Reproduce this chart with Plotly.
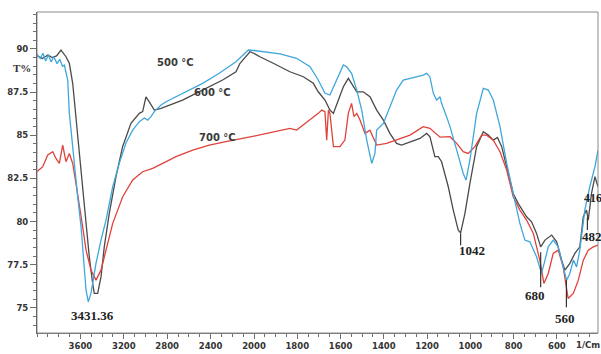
import plotly.graph_objects as go

# ---------------- data (wavenumber cm-1, transmittance %) ----------------
wn_500 = [4000, 3970, 3945, 3920, 3895, 3870, 3845, 3815, 3790, 3765,
          3748, 3717, 3702, 3687, 3656, 3625, 3594, 3579, 3564, 3548,
          3527, 3502, 3487, 3456, 3410, 3364, 3302, 3241, 3180, 3118,
          3057, 3011, 2980, 2949, 2919, 2888, 2857, 2811, 2719, 2596,
          2473, 2320, 2166, 2052, 2000, 1957, 1880, 1803, 1741, 1703,
          1672, 1649, 1618, 1587, 1572, 1549, 1525, 1502, 1479, 1456,
          1441, 1433, 1402, 1372, 1341, 1310, 1248, 1218, 1202, 1187,
          1171, 1156, 1140, 1133, 1110, 1094, 1063, 1033, 1020, 1002,
          971, 940, 917, 894, 863, 832, 802, 771, 748, 725,
          694, 671, 655, 640, 617, 594, 571, 555, 540, 524,
          509, 494, 471, 448, 424, 410]
t_500 = [89.7, 89.45, 89.75, 89.3, 89.65, 89.25, 89.55, 89.15, 89.4, 89.0,
         89.07, 88.2, 86.29, 85.3, 83.39, 81.44, 79.7, 78.35, 77.19, 76.03,
         75.35, 75.86, 76.43, 77.59, 78.93, 80.09, 82.02, 83.39, 84.55, 85.3,
         85.79, 86.0, 85.88, 86.08, 86.37, 86.58, 86.75, 86.94, 87.23, 87.62,
         88.01, 88.59, 89.26, 89.94, 89.91, 89.84, 89.71, 89.46, 88.97, 88.2,
         87.43, 87.33, 88.2, 89.07, 88.97, 88.59, 87.62, 86.46, 84.72, 83.37,
         83.95, 85.3, 85.69, 86.66, 87.62, 88.2, 88.39, 88.49, 88.59, 88.38,
         87.43, 87.04, 87.23, 86.85, 86.08, 85.5, 84.14, 82.79, 82.41, 83.57,
         86.27, 87.72, 87.62, 87.04, 85.5, 83.37, 81.63, 79.9, 78.93, 78.83,
         77.96, 77.0, 77.77, 78.54, 78.93, 78.54, 77.38, 76.61, 77.0, 77.77,
         77.38, 78.35, 80.67, 82.02, 83.18, 84.14]

wn_600 = [4000, 3950, 3900, 3860, 3820, 3779, 3733, 3702, 3671, 3641,
          3610, 3579, 3548, 3518, 3487, 3472, 3441, 3410, 3380, 3334,
          3272, 3211, 3134, 3057, 3026, 2996, 2965, 2919, 2857, 2781,
          2658, 2535, 2412, 2289, 2166, 2129, 2037, 2000, 1973, 1911,
          1834, 1772, 1726, 1703, 1672, 1649, 1633, 1610, 1587, 1564,
          1541, 1525, 1495, 1464, 1433, 1402, 1372, 1341, 1318, 1279,
          1233, 1202, 1187, 1164, 1148, 1133, 1102, 1079, 1056, 1045,
          1025, 1002, 971, 940, 917, 894, 875, 855, 832, 802,
          779, 740, 717, 694, 675, 655, 624, 601, 578, 563,
          540, 517, 494, 478, 463, 455, 440, 424, 410]
t_600 = [89.6, 89.45, 89.65, 89.5, 89.6, 89.94, 89.55, 89.17, 88.01, 86.08,
         83.76, 81.83, 79.9, 77.96, 76.42, 75.84, 75.84, 76.8, 78.54, 80.48,
         82.6, 84.34, 85.69, 86.27, 86.37, 87.23, 86.94, 86.46, 86.56, 86.75,
         87.04, 87.43, 87.81, 88.2, 88.68, 89.17, 89.84, 89.74, 89.55, 89.17,
         88.68, 88.39, 88.01, 87.52, 87.04, 86.46, 86.27, 87.04, 87.81, 88.3,
         87.81, 87.52, 87.52, 87.23, 86.46, 85.88, 85.11, 84.53, 84.43, 84.63,
         84.82, 85.11, 84.92, 83.76, 83.76, 83.47, 82.02, 80.67, 79.51, 79.35,
         80.48, 82.21, 84.34, 85.21, 85.01, 84.72, 84.88, 84.34, 83.18, 81.63,
         81.06, 80.28, 79.99, 79.32, 78.54, 78.93, 79.22, 78.83, 77.77, 77.19,
         77.58, 78.16, 78.54, 80.28, 80.67, 80.09, 81.63, 82.6, 82.02]

wn_700 = [4000, 3947, 3901, 3855, 3825, 3794, 3763, 3733, 3702, 3671,
          3641, 3610, 3579, 3548, 3502, 3456, 3410, 3364, 3302, 3210,
          3118, 3026, 2934, 2841, 2719, 2565, 2412, 2258, 2200, 2037,
          2000, 1911, 1834, 1803, 1772, 1741, 1718, 1703, 1687, 1672,
          1664, 1656, 1649, 1641, 1633, 1603, 1580, 1564, 1549, 1538,
          1525, 1510, 1487, 1464, 1449, 1433, 1387, 1341, 1279, 1218,
          1187, 1140, 1094, 1063, 1033, 1010, 979, 948, 925, 894,
          863, 832, 802, 771, 740, 709, 679, 660, 640, 617,
          594, 571, 548, 524, 501, 478, 455, 432, 410]
t_700 = [82.89, 83.18, 83.86, 84.05, 83.66, 83.37, 84.43, 83.47, 83.95, 83.37,
         82.21, 81.06, 79.7, 78.35, 77.19, 76.61, 77.19, 78.35, 79.9, 81.44,
         82.41, 82.89, 83.08, 83.37, 83.76, 84.14, 84.43, 84.63, 84.7, 84.92,
         84.95, 85.21, 85.4, 85.3, 85.59, 85.88, 86.08, 86.27, 86.46, 86.37,
         84.72, 86.46, 86.27, 85.3, 84.34, 84.34, 84.72, 86.27, 86.85, 86.08,
         86.27, 85.88, 85.11, 85.3, 84.92, 84.43, 84.53, 84.72, 85.01, 85.5,
         85.4, 84.89, 84.92, 84.53, 84.05, 83.95, 84.34, 85.01, 85.01, 84.72,
         84.05, 82.99, 81.44, 80.67, 80.09, 79.32, 77.77, 76.42, 77.0, 78.16,
         78.35, 77.38, 75.55, 75.84, 76.61, 77.77, 78.35, 78.54, 78.64]

series_names = ["600 °C", "700 °C", "500 °C"]
series_colors = ["#4a4a4a", "#e0423b", "#3fa7db"]
series_wn = [wn_600, wn_700, wn_500]
series_t = [t_600, t_700, t_500]

x_ticks_high = [3600, 3200, 2800, 2400]
x_ticks_low = [2000, 1800, 1600, 1400, 1200, 1000, 800, 600]
y_ticks = [75, 77.5, 80, 82.5, 85, 87.5, 90]
y_ticklabels = ["75", "77.5", "80", "82.5", "85", "87.5", "90"]

# peak labels: (text, wavenumber, T)
peak_labels = [("3431.36", 3484, 74.58), ("1042", 994, 78.35), ("680", 701, 75.74),
               ("560", 563, 74.41)]
# peak marker lines: (wavenumber, T top, T bottom)
peak_lines = [(1045, 79.33, 78.63), (675, 78.23, 76.2), (556, 76.61, 75.04), (459, 80.26, 79.51)]

# ---------------- figure ----------------
split = 2000
d = 217 / 561

fig = go.Figure()
for name, color, wn, t in zip(series_names, series_colors, series_wn, series_t):
    hi = [(w, v) for w, v in zip(wn, t) if w >= split]
    lo = [(w, v) for w, v in zip(wn, t) if w <= split]
    fig.add_trace(go.Scatter(x=[p[0] for p in hi], y=[p[1] for p in hi], xaxis="x", yaxis="y",
                             mode="lines", name=name, line=dict(color=color, width=1.3),
                             showlegend=False, hoverinfo="skip"))
    fig.add_trace(go.Scatter(x=[p[0] for p in lo], y=[p[1] for p in lo], xaxis="x2", yaxis="y",
                             mode="lines", name=name, line=dict(color=color, width=1.3),
                             showlegend=False, hoverinfo="skip"))

tickfont = dict(family="DejaVu Sans", size=8.5, color="#333333", weight="bold")
axis_line = "#6e6e6e"

fig.update_layout(
    width=601, height=354,
    margin=dict(l=37, r=3, t=12, b=21),
    paper_bgcolor="white", plot_bgcolor="white",
    xaxis=dict(domain=[0, d], range=[4000, split], anchor="y",
               tickmode="array", tickvals=x_ticks_high, ticktext=[str(v) for v in x_ticks_high],
               ticks="outside", ticklen=5, tickcolor=axis_line, tickfont=tickfont,
               minor=dict(tickmode="linear", tick0=0, dtick=100, ticks="outside", ticklen=3,
                          tickcolor=axis_line),
               showline=True, linecolor=axis_line, linewidth=1,
               showgrid=False, zeroline=False),
    xaxis2=dict(domain=[d, 1], range=[split, 410], anchor="y",
                tickmode="array", tickvals=x_ticks_low, ticktext=[str(v) for v in x_ticks_low],
                ticks="outside", ticklen=5, tickcolor=axis_line, tickfont=tickfont,
                minor=dict(tickmode="linear", tick0=0, dtick=50, ticks="outside", ticklen=3,
                           tickcolor=axis_line),
                showline=True, linecolor=axis_line, linewidth=1,
                showgrid=False, zeroline=False),
    yaxis=dict(range=[73.55, 92.14], anchor="x",
               tickmode="array", tickvals=y_ticks, ticktext=y_ticklabels,
               ticks="outside", ticklen=6, tickcolor=axis_line, tickfont=tickfont,
               minor=dict(tickmode="linear", tick0=0, dtick=0.5, ticks="outside", ticklen=3,
                          tickcolor=axis_line),
               showline=True, linecolor="#444444", linewidth=1,
               showgrid=False, zeroline=False),
)

# frame
fig.add_shape(type="rect", xref="paper", yref="paper", x0=0, x1=1, y0=0, y1=1,
              line=dict(color="#8a8a8a", width=1), layer="above")

# peak marker lines
for w, y0, y1 in peak_lines:
    fig.add_shape(type="line", xref="x2", yref="y", x0=w, x1=w, y0=y0, y1=y1,
                  line=dict(color="#333333", width=1.2))

serif = dict(family="Liberation Serif", size=13, color="#222222", weight="bold")
for text, w, v in peak_labels:
    fig.add_annotation(x=w, y=v, xref="x" if w > split else "x2", yref="y", text=text,
                       showarrow=False, font=serif, xanchor="center", yanchor="middle")
fig.add_annotation(x=494, y=79.12, xref="x2", yref="y", text="482", showarrow=False,
                   font=serif, xanchor="left", yanchor="middle")
fig.add_annotation(x=484, y=81.36, xref="x2", yref="y", text="416", showarrow=False,
                   font=dict(family="Liberation Serif", size=12, color="#222222", weight="bold"),
                   xanchor="left", yanchor="middle")

# series labels
lab_font = dict(family="DejaVu Sans", size=10, color="#3a3a3a", weight="bold")
fig.add_annotation(x=2728, y=89.19, xref="x", yref="y", text="500 °C", showarrow=False,
                   font=lab_font, xanchor="center", yanchor="middle")
fig.add_annotation(x=2378, y=87.45, xref="x", yref="y", text="600 °C", showarrow=False,
                   font=lab_font, xanchor="center", yanchor="middle")
fig.add_annotation(x=2341, y=84.9, xref="x", yref="y", text="700 °C", showarrow=False,
                   font=lab_font, xanchor="center", yanchor="middle")

# axis unit labels
fig.add_annotation(x=0, y=88.9, xref="paper", yref="y", text="T%", showarrow=False,
                   font=dict(family="Liberation Serif", size=11, color="#333333", weight="bold"),
                   xanchor="right", yanchor="middle", xshift=-4)
fig.add_annotation(x=0.957, y=-0.037, xref="paper", yref="paper", text="1/Cm", showarrow=False,
                   font=tickfont, xanchor="left", yanchor="middle")

fig.write_html("out.html", config={"displayModeBar": False},
               post_script="document.body.style.margin='0';document.body.style.overflow='hidden';")
